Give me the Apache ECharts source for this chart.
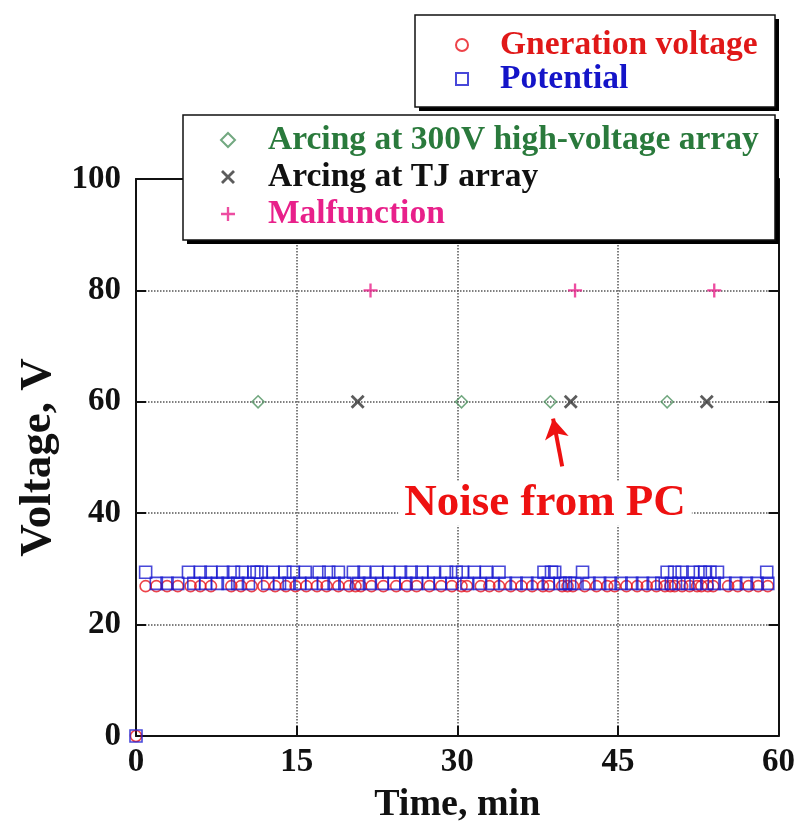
<!DOCTYPE html>
<html>
<head>
<meta charset="utf-8">
<script src="https://cdn.jsdelivr.net/npm/echarts@6/dist/echarts.min.js"></script>
<style>html,body{margin:0;padding:0;background:#fff}#c{width:798px;height:829px}</style>
</head>
<body>
<div id="c"></div>
<script>
// ---- data ----
var xTicks = [0, 15, 30, 45, 60];
var yTicks = [0, 20, 40, 60, 80, 100];
var genVoltage = [[0,0],[0.9,26.9],[1.9,26.9],[2.9,26.9],[3.9,26.9],[5.1,26.9],[6.0,26.9],[7.0,26.9],[8.9,26.9],[9.8,26.9],[10.8,26.9],[11.9,26.9],[13.0,26.9],[14.0,26.9],[14.9,26.9],[15.9,26.9],[16.9,26.9],[17.8,26.9],[18.9,26.9],[19.9,26.9],[20.5,26.9],[21.0,26.9],[22.0,26.9],[23.1,26.9],[24.3,26.9],[25.3,26.9],[26.2,26.9],[27.4,26.9],[28.5,26.9],[29.5,26.9],[30.4,26.9],[30.9,26.9],[32.2,26.9],[33.0,26.9],[33.9,26.9],[35.0,26.9],[36.0,26.9],[37.0,26.9],[38.0,26.9],[38.6,26.9],[39.8,26.9],[40.3,26.9],[40.8,26.9],[41.9,26.9],[43.0,26.9],[44.0,26.9],[44.7,26.9],[45.8,26.9],[46.8,26.9],[47.7,26.9],[48.6,26.9],[49.4,26.9],[49.9,26.9],[50.3,26.9],[51.0,26.9],[51.7,26.9],[52.4,26.9],[52.8,26.9],[53.4,26.9],[53.9,26.9],[55.3,26.9],[56.2,26.9],[57.2,26.9],[58.1,26.9],[59.0,26.9]];
var potentialHigh = [[0.9,29.4],[4.9,29.4],[6.0,29.4],[7.0,29.4],[8.1,29.4],[9.1,29.4],[9.9,29.4],[11.0,29.4],[11.3,29.4],[11.7,29.4],[12.8,29.4],[13.9,29.4],[14.7,29.4],[15.8,29.4],[17.1,29.4],[18.0,29.4],[18.9,29.4],[20.3,29.4],[21.3,29.4],[22.5,29.4],[23.6,29.4],[24.7,29.4],[25.7,29.4],[26.7,29.4],[27.8,29.4],[29.0,29.4],[29.9,29.4],[30.5,29.4],[31.6,29.4],[32.7,29.4],[33.9,29.4],[38.1,29.4],[38.8,29.4],[39.1,29.4],[41.7,29.4],[49.6,29.4],[50.3,29.4],[51.0,29.4],[52.0,29.4],[52.7,29.4],[53.1,29.4],[53.6,29.4],[54.3,29.4],[58.9,29.4]];
var potentialLow = [[0,0],[1.9,27.4],[2.9,27.4],[3.9,27.4],[5.4,27.4],[6.5,27.4],[7.6,27.4],[8.6,27.4],[9.5,27.4],[10.5,27.4],[12.3,27.4],[13.4,27.4],[14.3,27.4],[15.3,27.4],[16.4,27.4],[17.5,27.4],[18.5,27.4],[19.5,27.4],[20.8,27.4],[21.8,27.4],[23.0,27.4],[24.1,27.4],[25.2,27.4],[26.2,27.4],[27.3,27.4],[28.4,27.4],[29.5,27.4],[30.9,27.4],[32.1,27.4],[33.3,27.4],[34.5,27.4],[35.5,27.4],[36.5,27.4],[37.5,27.4],[38.5,27.4],[39.6,27.4],[40.1,27.4],[40.5,27.4],[41.0,27.4],[42.3,27.4],[43.3,27.4],[44.3,27.4],[45.3,27.4],[46.3,27.4],[47.3,27.4],[48.3,27.4],[49.1,27.4],[50.0,27.4],[50.7,27.4],[51.5,27.4],[52.3,27.4],[53.3,27.4],[54.0,27.4],[55.0,27.4],[56.0,27.4],[57.0,27.4],[58.0,27.4],[59.0,27.4]];
var arcing300V = [[11.4,60],[30.4,60],[38.7,60],[49.6,60]];
var arcingTJ = [[20.7,60],[40.6,60],[53.3,60]];
var malfunction = [[21.9,80],[41.0,80],[54.0,80]];
var noiseArrow = [[39.8,48.4],[38.95,57.0]];
var noiseLabelPos = [38.2,41.8];
var noiseLabel = 'Noise from PC';

// ---- chart ----
var FONT = 'Liberation Serif';
var plusPath = 'path://M-1,-6L1,-6L1,-1L6,-1L6,1L1,1L1,6L-1,6L-1,1L-6,1L-6,-1L-1,-1Z';
var crossPath = 'path://M-4.95,-3.54L-3.54,-4.95L0,-1.41L3.54,-4.95L4.95,-3.54L1.41,0L4.95,3.54L3.54,4.95L0,1.41L-3.54,4.95L-4.95,3.54L-1.41,0Z';
var potential = potentialLow.concat(potentialHigh);
var chart = echarts.init(document.getElementById('c'), null, {renderer:'canvas'});
var axisLabelStyle = {fontFamily: FONT, fontWeight: 'bold', fontSize: 33, color: '#111'};
var option = {
  animation: false,
  backgroundColor: '#fff',
  grid: {left: 136, right: 19, top: 179, bottom: 88, show: false},
  xAxis: [{
    type: 'value', min: 0, max: 60, interval: 15, position: 'bottom',
    name: 'Time, min', nameLocation: 'middle', nameGap: 50,
    nameTextStyle: {fontFamily: FONT, fontWeight: 'bold', fontSize: 38, color: '#111', verticalAlign: 'top'},
    axisLine: {show: true, onZero: false, lineStyle: {color: '#111', width: 2}},
    axisTick: {show: true, inside: true, length: 10, lineStyle: {color: '#111', width: 2}},
    axisLabel: Object.assign({margin: 10}, axisLabelStyle),
    splitLine: {show: true, lineStyle: {color: '#555', width: 1.5, type: 'dotted'}}
  }, {
    type: 'value', min: 0, max: 60, interval: 15, position: 'top',
    axisLine: {show: true, onZero: false, lineStyle: {color: '#111', width: 2}},
    axisTick: {show: false}, axisLabel: {show: false}, splitLine: {show: false}
  }],
  yAxis: [{
    type: 'value', min: 0, max: 100, interval: 20, position: 'left',
    name: 'Voltage, V', nameLocation: 'middle', nameGap: 73,
    nameTextStyle: {fontFamily: FONT, fontWeight: 'bold', fontSize: 45, color: '#111'},
    axisLine: {show: true, onZero: false, lineStyle: {color: '#111', width: 2}},
    axisTick: {show: true, inside: true, length: 10, lineStyle: {color: '#111', width: 2}},
    axisLabel: Object.assign({margin: 15}, axisLabelStyle),
    splitLine: {show: true, lineStyle: {color: '#555', width: 1.5, type: 'dotted'}}
  }, {
    type: 'value', min: 0, max: 100, interval: 20, position: 'right',
    axisLine: {show: true, onZero: false, lineStyle: {color: '#111', width: 2}},
    axisTick: {show: true, inside: true, length: 10, lineStyle: {color: '#111', width: 2}},
    axisLabel: {show: false}, splitLine: {show: false}
  }],
  graphic: [
    {type: 'rect', z: 50, shape: {x: 419, y: 19, width: 360, height: 92}, style: {fill: '#000'}},
    {type: 'rect', z: 51, shape: {x: 415, y: 15, width: 360, height: 92}, style: {fill: '#fff', stroke: '#111', lineWidth: 1.5}},
    {type: 'rect', z: 50, shape: {x: 187, y: 119, width: 592, height: 125}, style: {fill: '#000'}},
    {type: 'rect', z: 51, shape: {x: 183, y: 115, width: 592, height: 125}, style: {fill: '#fff', stroke: '#111', lineWidth: 1.5}}
  ],
  legend: [{
    z: 60, orient: 'vertical', left: 455, top: 28, padding: 0, itemGap: 0,
    itemWidth: 12, itemHeight: 12, selectedMode: false,
    formatter: function (n) { return '{g|}' + n; },
    textStyle: {fontFamily: FONT, fontWeight: 'bold', fontSize: 33.5, lineHeight: 34, rich: {g: {width: 27}}},
    data: [
      {name: 'Gneration voltage', textStyle: {color: '#e01818'}},
      {name: 'Potential', textStyle: {color: '#1414c8'}}
    ]
  }, {
    z: 60, orient: 'vertical', left: 220, top: 122, padding: 0, itemGap: 1,
    itemWidth: 14, itemHeight: 14, selectedMode: false,
    formatter: function (n) { return '{g|}' + n; },
    textStyle: {fontFamily: FONT, fontWeight: 'bold', fontSize: 33.5, lineHeight: 36, rich: {g: {width: 28}}},
    data: [
      {name: 'Arcing at 300V high-voltage array', textStyle: {color: '#2a7a3c'}},
      {name: 'Arcing at TJ array', textStyle: {color: '#111'}},
      {name: 'Malfunction', textStyle: {color: '#e8208a'}}
    ]
  }],
  series: [{
    name: 'Gneration voltage', type: 'scatter', data: genVoltage, clip: false,
    symbol: 'circle', symbolSize: 11,
    itemStyle: {color: 'rgba(0,0,0,0)', borderColor: '#e8141b', borderWidth: 1.6}
  }, {
    name: 'Potential', type: 'scatter', data: potential, clip: false,
    symbol: 'rect', symbolSize: 12,
    itemStyle: {color: 'rgba(0,0,0,0)', borderColor: '#1a1ad0', borderWidth: 1.6}
  }, {
    name: 'Arcing at 300V high-voltage array', type: 'scatter', data: arcing300V, clip: false,
    symbol: 'diamond', symbolSize: 12,
    itemStyle: {color: 'rgba(0,0,0,0)', borderColor: '#4f9260', borderWidth: 1.6},
    markLine: {
      silent: true, symbol: ['none', 'arrow'], symbolSize: [18, 20],
      lineStyle: {color: '#ee1111', width: 4, type: 'solid'},
      label: {show: false},
      data: [[{coord: noiseArrow[0]}, {coord: noiseArrow[1]}]]
    },
    markPoint: {
      silent: true, symbol: 'circle', symbolSize: 1,
      itemStyle: {color: 'rgba(0,0,0,0)'},
      label: {show: true, position: 'inside', formatter: noiseLabel,
        fontFamily: FONT, fontWeight: 'bold', fontSize: 45, color: '#ee1111',
        backgroundColor: '#fff', padding: [0, 6]},
      data: [{coord: noiseLabelPos}]
    }
  }, {
    name: 'Arcing at TJ array', type: 'scatter', data: arcingTJ, clip: false,
    symbol: crossPath, symbolSize: 14,
    itemStyle: {color: '#333'}
  }, {
    name: 'Malfunction', type: 'scatter', data: malfunction, clip: false,
    symbol: plusPath, symbolSize: 14,
    itemStyle: {color: '#e8208a'}
  }]
};
chart.setOption(option);
</script>
</body>
</html>
